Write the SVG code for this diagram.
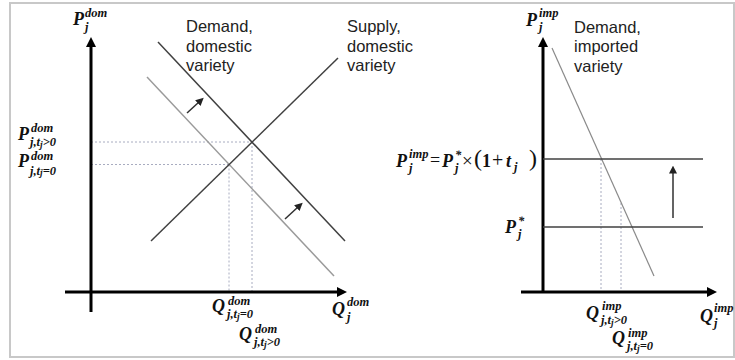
<svg xmlns="http://www.w3.org/2000/svg" width="735" height="360" viewBox="0 0 735 360">
<style>
.lbl{font-family:"Liberation Sans",Arial,sans-serif;font-size:16.5px;fill:#222}
.m{font-family:"Liberation Serif","Times New Roman",serif;font-weight:bold;font-style:italic;fill:#111}
.big{font-size:18px}
.sm{font-size:12.5px}
.xs{font-size:9.5px}
.op{font-family:"Liberation Serif","Times New Roman",serif;font-size:18px;fill:#111}
.axis{stroke:#000;stroke-width:3;fill:none}
.dark{stroke:#404040;stroke-width:1.5;fill:none}
.light{stroke:#9a9a9a;stroke-width:1.5;fill:none}
.imp{stroke:#8a8a8a;stroke-width:1.2;fill:none}
.dash{stroke:#a8acc0;stroke-width:1;stroke-dasharray:2,2;fill:none}
.shift{stroke:#303030;stroke-width:1.5;fill:none}
</style>
<defs>
<marker id="axh" viewBox="0 0 10 10" refX="2" refY="5" markerWidth="10" markerHeight="10" markerUnits="userSpaceOnUse" orient="auto">
<path d="M0,0 L10,5 L0,10 Z" fill="#000"/>
</marker>
<marker id="sh" viewBox="0 0 10 10" refX="2" refY="5" markerWidth="8" markerHeight="8" markerUnits="userSpaceOnUse" orient="auto">
<path d="M0,0 L10,5 L0,10 Z" fill="#222"/>
</marker>
</defs>
<rect x="10" y="3" width="724" height="354" fill="#fff" stroke="#c8c8c8" stroke-width="2"/>

<g id="connectors">
<line class="dash" x1="91" y1="142" x2="252" y2="142"/>
<line class="dash" x1="91" y1="164.5" x2="229" y2="164.5"/>
<line class="dash" x1="229" y1="164.5" x2="229" y2="292"/>
<line class="dash" x1="252" y1="142" x2="252" y2="292"/>
<line class="dash" x1="601" y1="159" x2="601" y2="292"/>
<line class="dash" x1="621" y1="203" x2="621" y2="292"/>
<line class="shift" x1="187" y1="113" x2="199" y2="102" marker-end="url(#sh)"/>
<line class="shift" x1="285" y1="219" x2="298" y2="207" marker-end="url(#sh)"/>
<line class="shift" x1="673" y1="218" x2="673" y2="172" marker-end="url(#sh)"/>
</g>

<g id="axes-domestic">
<line class="axis" x1="91" y1="312" x2="91" y2="45" marker-end="url(#axh)"/>
<line class="axis" x1="65" y1="292" x2="339" y2="292" marker-end="url(#axh)"/>
</g>
<g id="demand-domestic">
<line class="dark" x1="158" y1="42" x2="345" y2="241"/>
</g>
<g id="demand-domestic-initial">
<line class="light" x1="147" y1="77" x2="334" y2="276"/>
</g>
<g id="supply-domestic">
<line class="dark" x1="151" y1="241" x2="338" y2="58"/>
</g>

<g id="axes-imported">
<line class="axis" x1="543" y1="292" x2="543" y2="45" marker-end="url(#axh)"/>
<line class="axis" x1="521" y1="292" x2="709" y2="292" marker-end="url(#axh)"/>
</g>
<g id="demand-imported">
<line class="imp" x1="552" y1="48" x2="654" y2="276"/>
</g>
<g id="price-with-tariff">
<line class="dark" x1="543" y1="159" x2="703" y2="159"/>
</g>
<g id="world-price">
<line class="dark" x1="543" y1="227" x2="703" y2="227"/>
</g>

<g id="labels-text">
<text class="lbl"><tspan x="186" y="32">Demand,</tspan><tspan x="186" y="52">domestic</tspan><tspan x="186" y="71">variety</tspan></text>
<text class="lbl"><tspan x="347" y="32">Supply,</tspan><tspan x="347" y="52">domestic</tspan><tspan x="347" y="71">variety</tspan></text>
<text class="lbl"><tspan x="574" y="33">Demand,</tspan><tspan x="574" y="52">imported</tspan><tspan x="574" y="72">variety</tspan></text>
</g>

<g id="math-labels">
<text class="m"><tspan class="big" x="73" y="25">P</tspan><tspan class="sm" x="85" y="17">dom</tspan><tspan class="sm" x="85" y="31">j</tspan></text>
<text class="m"><tspan class="big" x="18" y="140">P</tspan><tspan class="sm" x="31" y="132">dom</tspan><tspan class="sm" x="30" y="146">j,t</tspan><tspan class="xs" dy="1.5">j</tspan><tspan class="sm" dy="-1.5">&gt;0</tspan></text>
<text class="m"><tspan class="big" x="18" y="167">P</tspan><tspan class="sm" x="31" y="160">dom</tspan><tspan class="sm" x="30" y="174.5">j,t</tspan><tspan class="xs" dy="1.5">j</tspan><tspan class="sm" dy="-1.5">=0</tspan></text>
<text class="m"><tspan class="big" x="212" y="312">Q</tspan><tspan class="sm" x="228" y="305">dom</tspan><tspan class="sm" x="227" y="318">j,t</tspan><tspan class="xs" dy="2">j</tspan><tspan class="sm" dy="-2">=0</tspan></text>
<text class="m"><tspan class="big" x="239" y="340">Q</tspan><tspan class="sm" x="255" y="333">dom</tspan><tspan class="sm" x="254" y="346">j,t</tspan><tspan class="xs" dy="2">j</tspan><tspan class="sm" dy="-2">&gt;0</tspan></text>
<text class="m"><tspan class="big" x="332" y="315">Q</tspan><tspan class="sm" x="347" y="306">dom</tspan><tspan class="sm" x="347" y="321">j</tspan></text>

<text class="m"><tspan class="big" x="526" y="26">P</tspan><tspan class="sm" x="539" y="17">imp</tspan><tspan class="sm" x="539" y="31">j</tspan></text>
<text class="m"><tspan class="big" x="586" y="319">Q</tspan><tspan class="sm" x="602" y="310">imp</tspan><tspan class="sm" x="601" y="324">j,t</tspan><tspan class="xs" dy="2">j</tspan><tspan class="sm" dy="-2">&gt;0</tspan></text>
<text class="m"><tspan class="big" x="612" y="344">Q</tspan><tspan class="sm" x="628" y="337">imp</tspan><tspan class="sm" x="627" y="350">j,t</tspan><tspan class="xs" dy="2">j</tspan><tspan class="sm" dy="-2">=0</tspan></text>
<text class="m"><tspan class="big" x="700" y="322">Q</tspan><tspan class="sm" x="714" y="312">imp</tspan><tspan class="sm" x="714" y="327">j</tspan></text>

<text class="m"><tspan class="big" x="396" y="167">P</tspan><tspan class="sm" x="409" y="158">imp</tspan><tspan class="sm" x="409" y="172">j</tspan></text>
<text class="op" x="430" y="166">=</text>
<text class="m"><tspan class="big" x="442" y="167">P</tspan><tspan class="sm" x="455" y="159">*</tspan><tspan class="sm" x="455" y="172">j</tspan></text>
<text class="op" x="462" y="167" style="font-size:19px">×</text>
<text class="op" x="474" y="166" style="font-size:24px">(</text>
<text class="m big" x="482" y="167" style="font-style:normal">1</text>
<text class="op" x="492" y="167" style="font-size:20px">+</text>
<text class="m"><tspan class="big" x="506" y="167">t</tspan><tspan class="sm" x="514" y="171">j</tspan></text>
<text class="op" x="529" y="166" style="font-size:24px">)</text>
<text class="m"><tspan class="big" x="505" y="233">P</tspan><tspan class="sm" x="518" y="225">*</tspan><tspan class="sm" x="518" y="238">j</tspan></text>
</g>
</svg>
